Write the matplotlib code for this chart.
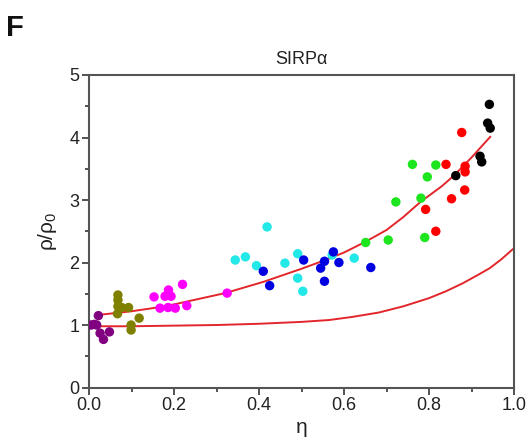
import matplotlib
matplotlib.use('Agg')
import matplotlib.pyplot as plt
from matplotlib.ticker import MultipleLocator

plt.rcParams['font.family'] = ['Liberation Sans', 'DejaVu Sans']
plt.rcParams['mathtext.fontset'] = 'custom'
plt.rcParams['mathtext.rm'] = 'Liberation Sans'
plt.rcParams['mathtext.default'] = 'regular'

# data groups (eta, rho/rho0)
purple_eta = [0.005, 0.012, 0.018, 0.022, 0.026, 0.034, 0.048]
purple_rho = [1.00, 1.01, 1.00, 1.15, 0.87, 0.77, 0.89]

olive_eta = [0.068, 0.068, 0.068, 0.067, 0.077, 0.093, 0.099, 0.099, 0.118]
olive_rho = [1.48, 1.40, 1.30, 1.18, 1.28, 1.28, 1.00, 0.92, 1.11]

magenta_eta = [0.153, 0.167, 0.179, 0.187, 0.193, 0.186, 0.203, 0.220, 0.230, 0.325]
magenta_rho = [1.45, 1.27, 1.46, 1.56, 1.46, 1.28, 1.27, 1.65, 1.31, 1.51]

cyan_eta = [0.344, 0.368, 0.394, 0.419, 0.461, 0.491, 0.491, 0.503, 0.572, 0.624]
cyan_rho = [2.04, 2.09, 1.95, 2.57, 1.99, 2.14, 1.75, 1.54, 2.12, 2.07]

blue_eta = [0.410, 0.425, 0.505, 0.545, 0.554, 0.554, 0.575, 0.588, 0.663]
blue_rho = [1.86, 1.63, 2.04, 1.91, 1.70, 2.02, 2.17, 2.00, 1.92]

green_eta = [0.651, 0.704, 0.722, 0.761, 0.781, 0.790, 0.796, 0.816]
green_rho = [2.32, 2.36, 2.97, 3.57, 3.03, 2.40, 3.37, 3.56]

red_eta = [0.792, 0.816, 0.840, 0.853, 0.877, 0.884, 0.885, 0.885]
red_rho = [2.85, 2.50, 3.57, 3.02, 4.08, 3.16, 3.54, 3.45]

black_eta = [0.863, 0.920, 0.924, 0.938, 0.942, 0.944]
black_rho = [3.39, 3.70, 3.61, 4.23, 4.53, 4.15]

# fitted curves, sampled from the figure
fit_eta = [0.02, 0.1, 0.15, 0.2, 0.26, 0.32, 0.41, 0.5, 0.56, 0.6, 0.65, 0.7,
           0.74, 0.78, 0.83, 0.86, 0.9, 0.944]
fit_rho = [1.16, 1.22, 1.27, 1.33, 1.42, 1.51, 1.69, 1.90, 2.05, 2.16, 2.33, 2.52,
           2.73, 2.97, 3.22, 3.40, 3.68, 4.01]

model_eta = [0.0, 0.1, 0.2, 0.3, 0.4, 0.5, 0.565, 0.62, 0.682, 0.74, 0.8, 0.84,
             0.88, 0.92, 0.943, 0.97, 1.0]
model_rho = [0.98, 0.98, 0.99, 1.0, 1.02, 1.05, 1.08, 1.13, 1.20, 1.30, 1.43, 1.54,
             1.67, 1.82, 1.91, 2.05, 2.23]

groups = [
    (purple_eta, purple_rho, '#800080'),
    (olive_eta, olive_rho, '#808000'),
    (magenta_eta, magenta_rho, '#ff00ff'),
    (cyan_eta, cyan_rho, '#22e8e8'),
    (blue_eta, blue_rho, '#0000e0'),
    (green_eta, green_rho, '#1ee61e'),
    (red_eta, red_rho, '#ff0000'),
    (black_eta, black_rho, '#000000'),
]

fig = plt.figure(figsize=(5.28, 4.48), dpi=100)
ax = fig.add_axes([0.1686, 0.135, 0.8049, 0.6976])

ax.plot(model_eta, model_rho, color='#e3262b', lw=1.4, zorder=2)
ax.plot(fit_eta, fit_rho, color='#e3262b', lw=1.4, zorder=2)
for xs, ys, c in groups:
    ax.scatter(xs, ys, s=46, color=c, edgecolors='none', zorder=3)

ax.set_xlim(0, 1.0)
ax.set_ylim(0, 5)
ax.xaxis.set_major_locator(MultipleLocator(0.2))
ax.xaxis.set_minor_locator(MultipleLocator(0.1))
ax.yaxis.set_major_locator(MultipleLocator(1))
ax.yaxis.set_minor_locator(MultipleLocator(0.5))
ax.xaxis.set_major_formatter(plt.FuncFormatter(lambda v, p: f'{v:.1f}'))
ax.tick_params(which='both', direction='out', color='#444444', width=1.3,
               labelsize=13, labelcolor='#222222', top=False, right=False)
ax.tick_params(which='major', length=5, pad=2)
ax.tick_params(which='minor', length=3)
for sp in ax.spines.values():
    sp.set_color('#555555')
    sp.set_linewidth(1.5)

ax.set_xlabel('η', fontsize=15, color='#222222', labelpad=3)
ax.set_ylabel('$ρ/ρ_0$', fontsize=15, color='#222222', labelpad=7)
ax.set_title('SIRPα', fontsize=13, color='#222222', pad=8)
fig.text(0.012, 0.92, 'F', fontsize=21, fontweight='bold', color='#111111')

fig.savefig('out.png', dpi=100)
